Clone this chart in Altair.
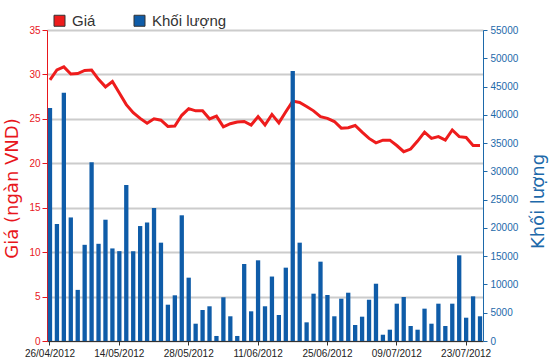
import altair as alt
import pandas as pd

dates = [
    "26/04/2012", "27/04/2012", "02/05/2012", "03/05/2012", "04/05/2012", "07/05/2012",
    "08/05/2012", "09/05/2012", "10/05/2012", "11/05/2012", "14/05/2012", "15/05/2012",
    "16/05/2012", "17/05/2012", "18/05/2012", "21/05/2012", "22/05/2012", "23/05/2012",
    "24/05/2012", "25/05/2012", "28/05/2012", "29/05/2012", "30/05/2012", "31/05/2012",
    "01/06/2012", "04/06/2012", "05/06/2012", "06/06/2012", "07/06/2012", "08/06/2012",
    "11/06/2012", "12/06/2012", "13/06/2012", "14/06/2012", "15/06/2012", "18/06/2012",
    "19/06/2012", "20/06/2012", "21/06/2012", "22/06/2012", "25/06/2012", "26/06/2012",
    "27/06/2012", "28/06/2012", "29/06/2012", "02/07/2012", "03/07/2012", "04/07/2012",
    "05/07/2012", "06/07/2012", "09/07/2012", "10/07/2012", "11/07/2012", "12/07/2012",
    "13/07/2012", "16/07/2012", "17/07/2012", "18/07/2012", "19/07/2012", "20/07/2012",
    "23/07/2012", "24/07/2012", "25/07/2012",
]

price = [
    29.4, 30.5, 30.85, 30.05, 30.1, 30.45, 30.5, 29.45, 28.6, 29.2,
    27.9, 26.6, 25.7, 25.05, 24.5, 25.0, 24.85, 24.15, 24.2, 25.4,
    26.15, 25.9, 25.9, 25.0, 25.3, 24.1, 24.45, 24.65, 24.7, 24.3,
    25.25, 24.3, 25.5, 24.55, 25.8, 27.0, 26.85, 26.4, 25.9, 25.25,
    25.05, 24.7, 23.95, 24.0, 24.25, 23.5, 22.8, 22.3, 22.6, 22.6,
    22.0, 21.3, 21.6, 22.5, 23.5, 22.8, 23.0, 22.6, 23.75, 23.0,
    22.9, 22.0, 22.0,
]

volume = [
    41200, 20680, 43900, 21850, 9040, 17010, 31600, 17190, 21450, 16370,
    15890, 27590, 15890, 20330, 20970, 23510, 17390, 6420, 8080, 22230,
    11200, 3060, 5480, 6140, 890, 7730, 4370, 890, 13620, 5250,
    14270, 6140, 11400, 4600, 12970, 47750, 17390, 3300, 8370, 14030,
    8140, 4370, 7480, 8540, 2830, 4300, 7300, 10130, 1110, 2000,
    6600, 7780, 2650, 2000, 5720, 3060, 6600, 2650, 6600, 15150,
    4120, 7900, 4370,
]

tick_labels = ["26/04/2012", "14/05/2012", "28/05/2012", "11/06/2012",
               "25/06/2012", "09/07/2012", "23/07/2012"]
series_names = ["Giá", "Khối lượng"]
series_colors = ["#ee1c1c", "#0f5ca8"]

df = pd.DataFrame({"date": dates, "price": price, "volume": volume})
df["series"] = "Khối lượng"

RED = "#e8161c"
BLUE = "#1d69aa"
LABEL_FONT = "Liberation Sans"

x_enc = alt.X(
    "date:O",
    sort=None,
    scale=alt.Scale(paddingInner=0.38, paddingOuter=0.12),
    axis=alt.Axis(
        title="",
        values=tick_labels,
        labelAngle=0,
        labelFont=LABEL_FONT,
        labelFontSize=10,
        labelColor="#222222",
        domainColor="#333333",
        tickColor="#333333",
        tickSize=4,
        labelPadding=3,
        grid=False,
    ),
)

line = alt.Chart(df).mark_line(color="#ee1c1c", strokeWidth=3).encode(
    x=x_enc,
    y=alt.Y(
        "price:Q",
        scale=alt.Scale(domain=[0, 35], nice=False, zero=True),
        axis=alt.Axis(
            orient="left",
            title="Giá (ngàn VND)",
            titleFont="DejaVu Sans",
            titleFontSize=18,
            titleFontWeight="normal",
            titleColor=RED,
            titleAngle=270,
            titleX=-35,
            titleY=158,
            titleAlign="center",
            titleBaseline="middle",
            values=[0, 5, 10, 15, 20, 25, 30, 35],
            labelFont=LABEL_FONT,
            labelFontSize=10,
            labelColor=RED,
            domainColor=RED,
            tickColor=RED,
            tickSize=5,
            labelPadding=2,
            grid=True,
            gridColor="#cccccc",
            gridWidth=2,
        ),
    ),
)

bars = alt.Chart(df).mark_bar().encode(
    x=x_enc,
    y=alt.Y(
        "volume:Q",
        scale=alt.Scale(domain=[0, 55000], nice=False),
        axis=alt.Axis(
            orient="right",
            title="Khối lượng",
            titleFont="DejaVu Sans",
            titleFontSize=18,
            titleFontWeight="normal",
            titleColor=BLUE,
            titleAngle=270,
            titleX=55,
            titleY=171,
            titleAlign="center",
            titleBaseline="middle",
            values=list(range(0, 55001, 5000)),
            format="d",
            labelFont=LABEL_FONT,
            labelFontSize=10,
            labelColor=BLUE,
            domainColor=BLUE,
            tickColor=BLUE,
            tickSize=4,
            labelPadding=3,
            grid=False,
        ),
    ),
    color=alt.Color(
        "series:N",
        scale=alt.Scale(domain=series_names, range=series_colors),
        legend=alt.Legend(
            title=None,
            orient="none",
            legendX=5,
            legendY=-17,
            direction="horizontal",
            columns=2,
            columnPadding=36,
            symbolType="square",
            symbolSize=121,
            symbolStrokeColor="#333333",
            symbolStrokeWidth=1,
            symbolOpacity=1,
            labelFont=LABEL_FONT,
            labelFontSize=15,
            labelColor="#333333",
            labelOffset=5,
        ),
    ),
)

chart = (
    alt.layer(line, bars)
    .resolve_scale(y="independent")
    .properties(
        width=436,
        height=311,
        padding={"left": 47, "top": 30, "right": 67, "bottom": 23},
        autosize=alt.AutoSizeParams(type="none"),
    )
    .configure_view(stroke="#000000", strokeWidth=1)
    .configure(background="white")
)

chart.save("out.html", embed_options={"renderer": "svg", "actions": False})
